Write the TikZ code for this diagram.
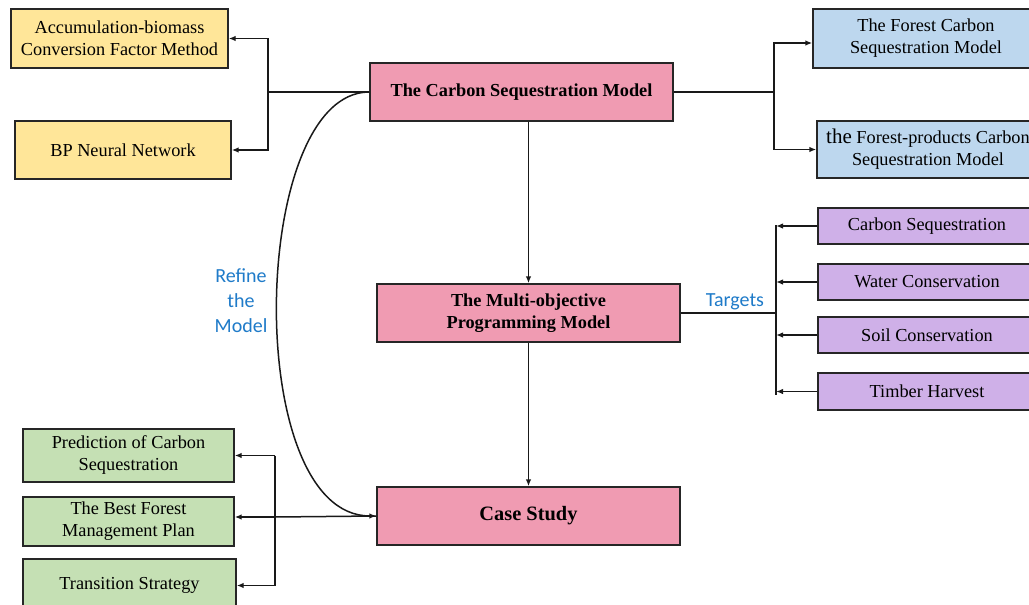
\documentclass[tikz,border=0pt]{standalone}
\usepackage{fontspec}
\setmainfont{Liberation Serif}
\newfontfamily\calfont{Carlito}
\usetikzlibrary{arrows.meta}
\definecolor{cyel}{HTML}{FFE699}
\definecolor{cblu}{HTML}{BDD7EE}
\definecolor{cpnk}{HTML}{F09BB2}
\definecolor{cpur}{HTML}{CFB0E8}
\definecolor{cgrn}{HTML}{C5E0B4}
\definecolor{ctxt}{HTML}{1F7BC9}
\tikzset{
  box/.style={draw=black!85, line width=1.4pt, inner sep=0pt, align=center,
    font=\fontsize{18.3}{22}\selectfont},
  ybox/.style={box, fill=cyel},
  bbox/.style={box, fill=cblu},
  pbox/.style={box, fill=cpnk, font=\fontsize{18.3}{22}\selectfont\bfseries},
  ubox/.style={box, fill=cpur},
  gbox/.style={box, fill=cgrn},
  conn/.style={line width=1.5pt, draw=black!90},
  arr/.style={conn, -{Latex[length=7pt,width=5.5pt]}},
  lbl/.style={text=ctxt, align=center, font=\calfont\fontsize{20}{25}\selectfont}
}
\begin{document}
\begin{tikzpicture}[x=1pt,y=-1pt]
\useasboundingbox (0,0) rectangle (1029,605);
\clip (0,0) rectangle (1029,605);
\fill[white] (0,0) rectangle (1029,605);
% left yellow boxes
\node[ybox, minimum width=217pt, minimum height=59pt] (y1) at (119.5,38.5) {Accumulation-biomass\\Conversion Factor Method};
\node[ybox, minimum width=216pt, minimum height=58pt] (y2) at (123,150) {BP Neural Network};
% pink boxes
\node[pbox, minimum width=303pt, minimum height=58pt] (ptop) at (521.5,92) {The Carbon Sequestration Model};
\node[pbox, minimum width=303pt, minimum height=58pt] (pmid) at (528.5,313) {The Multi-objective\\Programming Model};
\node[pbox, minimum width=303pt, minimum height=58pt, font=\fontsize{20.4}{24}\selectfont\bfseries] (pcase) at (528.5,516) {Case Study};
% blue boxes
\node[bbox, minimum width=226pt, minimum height=59pt] (b1) at (926,38.5) {The Forest Carbon\\Sequestration Model};
\node[bbox, minimum width=222pt, minimum height=57pt] (b2) at (928,149.5) {{\fontsize{21}{22}\selectfont the} Forest-products Carbon\\Sequestration Model};
% purple boxes
\node[ubox, minimum width=218pt, minimum height=36pt] (c1) at (927,226) {Carbon Sequestration};
\node[ubox, minimum width=218pt, minimum height=36pt] (c2) at (927,282) {Water Conservation};
\node[ubox, minimum width=218pt, minimum height=36pt] (c3) at (927,335) {Soil Conservation};
\node[ubox, minimum width=218pt, minimum height=37pt] (c4) at (927,391.5) {Timber Harvest};
% green boxes
\node[gbox, minimum width=211pt, minimum height=53pt] (g1) at (128.5,455.5) {Prediction of Carbon\\Sequestration};
\node[gbox, minimum width=211pt, minimum height=49pt] (g2) at (128.5,521.5) {The Best Forest\\Management Plan};
\node[gbox, minimum width=213pt, minimum height=53pt] (g3) at (129.5,585.5) {Transition Strategy};
% labels
\node[lbl] (refine) at (241,301) {Refine\\the\\Model};
\node[lbl] (targets) at (735,302) {Targets};
% junction coordinates
\coordinate (jL) at (268,92);
\coordinate (jR) at (774,92);
\coordinate (jT) at (776,313);
\coordinate (jG) at (275,517);
% left branch
\draw[conn] (ptop.west) -- (jL);
\draw[arr] (jL) |- (y1.east);
\draw[arr] (jL) |- (y2.east);
% right branch
\draw[conn] (ptop.east) -- (jR);
\draw[arr] (jR) |- ([yshift=-4.5pt]b1.west);
\draw[arr] (jR) |- (b2.west);
% vertical flow
\draw[arr] (pmid.north |- ptop.south) -- (pmid.north);
\draw[arr] (pmid.south) -- (pcase.north);
% targets
\draw[conn] (pmid.east) -- (jT);
\draw[conn] ([yshift=1pt]jT |- c1.west) -- ([yshift=-3pt]jT |- c4.west);
\draw[arr] (c1.west) -- (c1.west -| jT);
\draw[arr] (c2.west) -- (c2.west -| jT);
\draw[arr] (c3.west) -- (c3.west -| jT);
\draw[arr] (c4.west) -- (c4.west -| jT);
% case study outputs
\draw[conn] (pcase.west) -- (jG);
\draw[conn] (jG |- g1.east) -- (jG |- g3.east);
\draw[arr] (jG |- g1.east) -- (g1.east);
\draw[arr] (jG) -- (jG -| g2.east);
\draw[arr] (jG |- g3.east) -- (g3.east);
% refine curve
\draw[arr] (ptop.west) .. controls +(-120,0) and +(-135,0) .. (pcase.west);
\end{tikzpicture}
\end{document}
